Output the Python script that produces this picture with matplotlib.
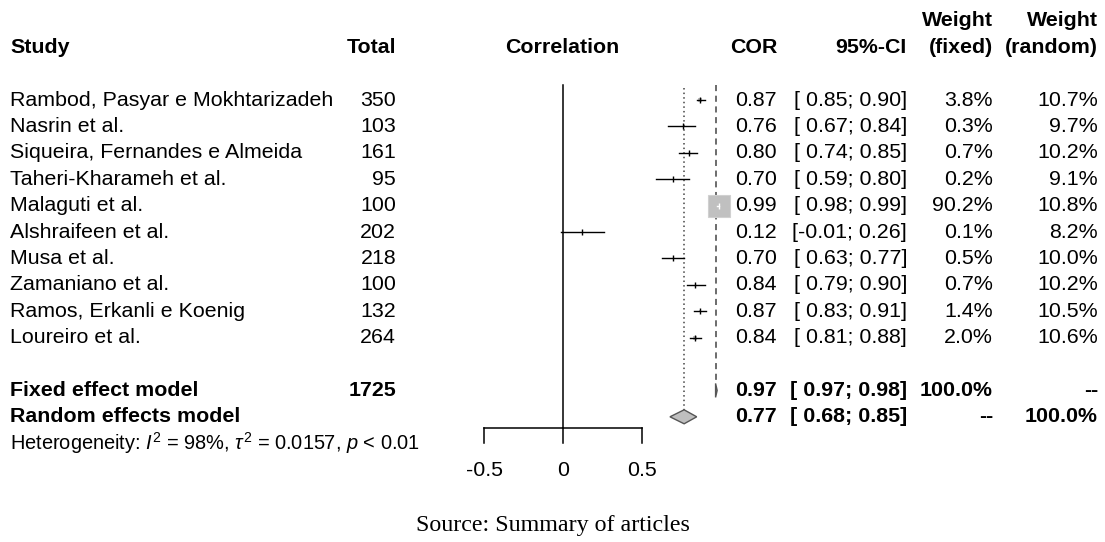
import matplotlib

matplotlib.use("Agg", force=True)
import matplotlib.pyplot as plt
from matplotlib.patches import Polygon

# ---- data ----
studies = [
    "Rambod, Pasyar e Mokhtarizadeh",
    "Nasrin et al.",
    "Siqueira, Fernandes e Almeida",
    "Taheri-Kharameh et al.",
    "Malaguti et al.",
    "Alshraifeen et al.",
    "Musa et al.",
    "Zamaniano et al.",
    "Ramos, Erkanli e Koenig",
    "Loureiro et al.",
]
totals = [350, 103, 161, 95, 100, 202, 218, 100, 132, 264]
cor = [0.87, 0.76, 0.80, 0.70, 0.99, 0.12, 0.70, 0.84, 0.87, 0.84]
ci_lo = [0.85, 0.67, 0.74, 0.59, 0.98, -0.01, 0.63, 0.79, 0.83, 0.81]
ci_hi = [0.90, 0.84, 0.85, 0.80, 0.99, 0.26, 0.77, 0.90, 0.91, 0.88]
w_fixed = [3.8, 0.3, 0.7, 0.2, 90.2, 0.1, 0.5, 0.7, 1.4, 2.0]
w_random = [10.7, 9.7, 10.2, 9.1, 10.8, 8.2, 10.0, 10.2, 10.5, 10.6]

total_n = 1725
fixed_est, fixed_lo, fixed_hi = 0.97, 0.97, 0.98
random_est, random_lo, random_hi = 0.77, 0.68, 0.85
het_text = r"Heterogeneity: $I^2$ = 98%, $\tau^2$ = 0.0157, $p$ < 0.01"
x_ticks = [-0.5, 0, 0.5]
x_tick_labels = ["-0.5", "0", "0.5"]

# ---- style ----
plt.rcParams["font.family"] = ["Liberation Sans", "DejaVu Sans"]
plt.rcParams["mathtext.fontset"] = "custom"
plt.rcParams["mathtext.rm"] = "Liberation Sans"
plt.rcParams["mathtext.it"] = "Liberation Sans:italic"
plt.rcParams["mathtext.bf"] = "Liberation Sans:bold"

W, H = 1105, 542
fig = plt.figure(figsize=(W / 100, H / 100), dpi=100)
ax = fig.add_axes([0, 0, 1, 1])
ax.set_axis_off()

# map: 1 correlation unit = 157.3 px, zero at x=563 px ; row step 26.4 px, first row at y=100 px
x0_px, x_scale = 563.0, 157.3
y0_px, y_step = 100.0, 26.4
ax.set_xlim((0 - x0_px) / x_scale, (W - x0_px) / x_scale)
ax.set_ylim((H - y0_px) / y_step, (0 - y0_px) / y_step)


def col(px):
    return px / W


tr = ax.get_yaxis_transform()
fs = 15.4
fsb = 15.4
n = len(studies)
row_fixed = n + 1
row_random = n + 2
row_het = n + 3

# column right edges (px)
c_study, c_total, c_plot, c_cor, c_ci, c_wf, c_wr = 10, 396, 562, 777, 907, 993, 1098

# headers
hdr = dict(transform=tr, va="center", fontsize=fsb, fontweight="bold")
ax.text(col(c_study), -2, "Study", ha="left", **hdr)
ax.text(col(c_total), -2, "Total", ha="right", **hdr)
ax.text(col(c_plot), -2, "Correlation", ha="center", **hdr)
ax.text(col(c_cor), -2, "COR", ha="right", **hdr)
ax.text(col(c_ci), -2, "95%-CI", ha="right", **hdr)
ax.text(col(c_wf), -3, "Weight", ha="right", **hdr)
ax.text(col(c_wf), -2, "(fixed)", ha="right", **hdr)
ax.text(col(c_wr), -3, "Weight", ha="right", **hdr)
ax.text(col(c_wr), -2, "(random)", ha="right", **hdr)


def ci_str(lo, hi):
    return f"[{lo:5.2f}; {hi:.2f}]"


# study rows
big_side = 15.8
for i in range(n):
    txt = dict(transform=tr, va="center", fontsize=fs)
    ax.text(col(c_study), i, studies[i], ha="left", **txt)
    ax.text(col(c_total), i, str(totals[i]), ha="right", **txt)
    ax.text(col(c_cor), i, f"{cor[i]:.2f}", ha="right", **txt)
    ax.text(col(c_ci), i, ci_str(ci_lo[i], ci_hi[i]), ha="right", **txt)
    ax.text(col(c_wf), i, f"{w_fixed[i]:.1f}%", ha="right", **txt)
    ax.text(col(c_wr), i, f"{w_random[i]:.1f}%", ha="right", **txt)

    side = big_side * (w_fixed[i] / max(w_fixed)) ** 0.5
    ax.plot([cor[i]], [i], marker="s", markersize=side, color="#c0c0c0",
            markeredgecolor="#d0d0d0", markeredgewidth=0.8 if side > 8 else 0, zorder=3)
    line_col = "white" if side > 8 else "black"
    ax.plot([ci_lo[i], ci_hi[i]], [i, i], color=line_col, linewidth=1.0, zorder=4)
    ax.plot([cor[i]], [i], marker="|", markersize=5, color=line_col, markeredgewidth=1.0, zorder=4)

# summary rows
bold = dict(transform=tr, va="center", fontsize=fsb, fontweight="bold")
ax.text(col(c_study), row_fixed, "Fixed effect model", ha="left", **bold)
ax.text(col(c_total), row_fixed, str(total_n), ha="right", **bold)
ax.text(col(c_cor), row_fixed, f"{fixed_est:.2f}", ha="right", **bold)
ax.text(col(c_ci), row_fixed, ci_str(fixed_lo, fixed_hi), ha="right", **bold)
ax.text(col(c_wf), row_fixed, "100.0%", ha="right", **bold)
ax.text(col(c_wr), row_fixed, "--", ha="right", **bold)

ax.text(col(c_study), row_random, "Random effects model", ha="left", **bold)
ax.text(col(c_cor), row_random, f"{random_est:.2f}", ha="right", **bold)
ax.text(col(c_ci), row_random, ci_str(random_lo, random_hi), ha="right", **bold)
ax.text(col(c_wf), row_random, "--", ha="right", **bold)
ax.text(col(c_wr), row_random, "100.0%", ha="right", **bold)

ax.text(col(c_study), row_het, het_text, transform=tr, ha="left", va="center", fontsize=14.4)

# diamonds
dh = 0.265
for est, lo, hi, row in [(fixed_est, fixed_lo, fixed_hi, row_fixed), (random_est, random_lo, random_hi, row_random)]:
    ax.add_patch(Polygon([(lo, row), (est, row - dh), (hi, row), (est, row + dh)],
                         closed=True, facecolor="#bfbfbf", edgecolor="#555555", linewidth=1.0, zorder=3))

# reference lines
axis_y = (428 - y0_px) / y_step
top_y = (85 - y0_px) / y_step
ax.plot([0, 0], [top_y, axis_y], color="black", linewidth=1.1)
ax.plot([random_est, random_est], [top_y + 0.12, row_random - dh], color="#444444", linewidth=1.1, linestyle=(0, (1, 2)))
ax.plot([fixed_est, fixed_est], [top_y, row_fixed - dh], color="#444444", linewidth=1.1, linestyle=(0, (4, 3)))

# x axis
ax.plot([x_ticks[0], x_ticks[-1]], [axis_y, axis_y], color="black", linewidth=1.1)
for t, lab in zip(x_ticks, x_tick_labels):
    ax.plot([t, t], [axis_y, axis_y + 0.58], color="black", linewidth=1.1)
    ax.text(t, axis_y + 1.6, lab, ha="center", va="center", fontsize=fs)

# caption
fig.text(553 / W, 1 - 525 / H, "Source: Summary of articles", ha="center", va="center",
         fontsize=17.3, family=["Liberation Serif", "DejaVu Serif"])

fig.savefig("out.png", dpi=100)
